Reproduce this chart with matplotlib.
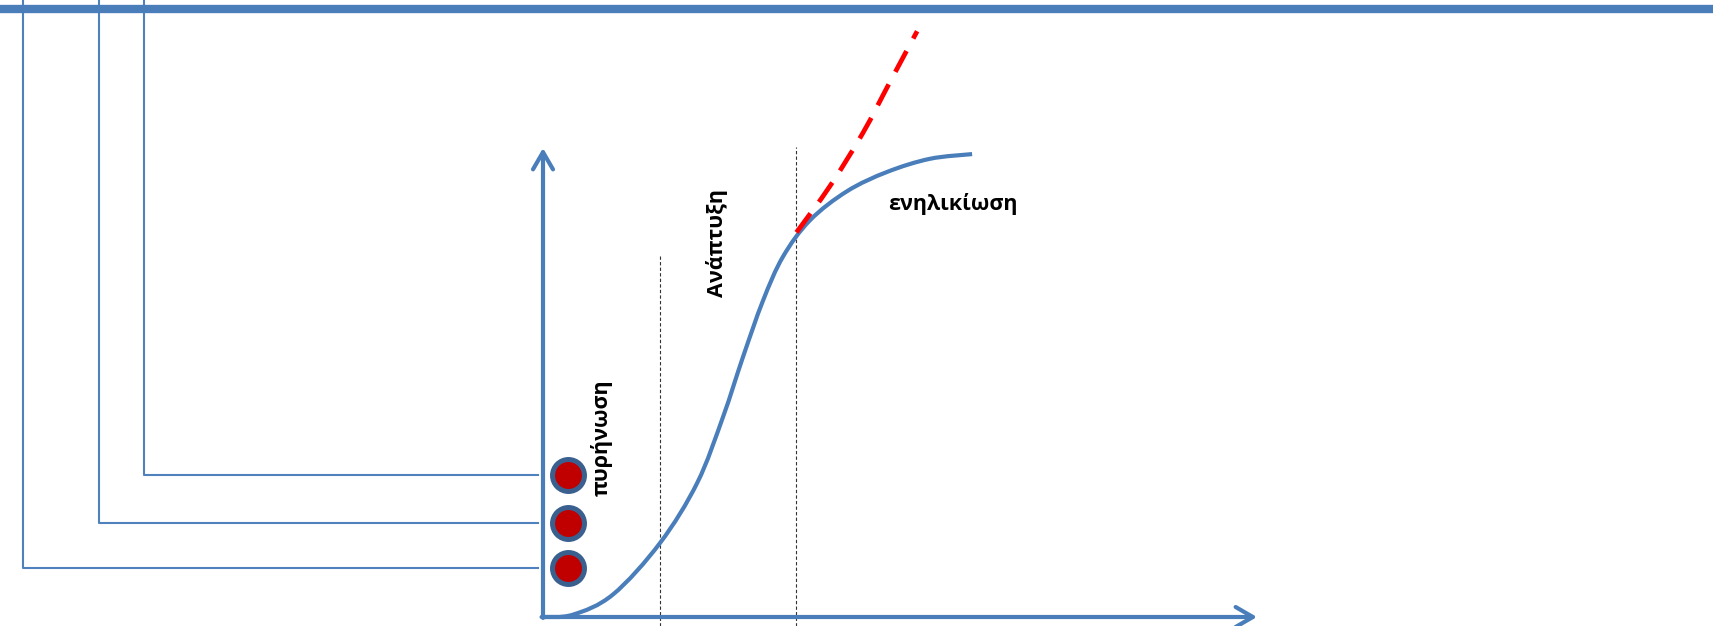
import numpy as np
import matplotlib
matplotlib.use("Agg")
import matplotlib.pyplot as plt
from matplotlib.lines import Line2D
from matplotlib.path import Path
from matplotlib.patches import PathPatch

plt.rcParams['font.family'] = ['Open Sans', 'DejaVu Sans']

# life cycle curve (time, level) in chart units 0..100
time = [0, 4.2, 9.8, 16.4, 21.6, 25.2, 28.0, 30.8, 33.6, 37.4, 42.6, 48.2, 54.2, 60.1]
level = [0, 0.5, 4.8, 15.8, 28.6, 42.6, 55.4, 67.4, 76.8, 84.6, 90.8, 94.9, 97.7, 98.7]

# renewed growth (red dashed)
renew_time = [35.5, 40.2, 44.8, 48.6, 52.4]
renew_level = [82.0, 91.9, 103.2, 114.1, 124.9]

# phase borders
phase_x = [16.4, 35.4]
phase_top = [77.2, 100.3]

phase_labels = ['πυρήνωση', 'Ανάπτυξη', 'ενηλικίωση']
label_pos = [(8.2, 38.2), (24.4, 79.7), (57.4, 88.1)]
label_rot = [90, 90, 0]

# three firms and their connector lines
firm_level = [30.3, 20.0, 10.4]
firm_line_x = [-55.9, -62.2, -72.8]

blue = '#4A7EBB'


def smooth_path(xs, ys):
    # catmull-rom through the points, as cubic bezier segments
    p = np.column_stack([xs, ys]).astype(float)
    p = np.vstack([p[0], p, p[-1]])
    verts = [p[1]]
    codes = [Path.MOVETO]
    for i in range(1, len(p) - 2):
        c1 = p[i] + (p[i + 1] - p[i - 1]) / 6
        c2 = p[i + 1] - (p[i + 2] - p[i]) / 6
        verts += [c1, c2, p[i + 1]]
        codes += [Path.CURVE4] * 3
    return Path(verts, codes)


fig = plt.figure(figsize=(17.13, 6.26), dpi=100)
ax = fig.add_axes([543 / 1713, 9 / 626, 714 / 1713, 469 / 626])
ax.set_xlim(0, 100)
ax.set_ylim(0, 100)
ax.axis('off')

# top bar
fig.add_artist(Line2D([0, 1], [1 - 9 / 626, 1 - 9 / 626], color=blue, lw=6,
                      transform=fig.transFigure))

# axes arrows
arrow = dict(arrowstyle='->,head_length=0.62,head_width=0.36', lw=3, color=blue,
             mutation_scale=20, shrinkA=0, shrinkB=0)
ax.annotate('', xy=(100, 0), xytext=(-0.2, 0), arrowprops=arrow, annotation_clip=False)
ax.annotate('', xy=(0, 100), xytext=(0, -0.2), arrowprops=arrow, annotation_clip=False)

# phase borders
for x, top in zip(phase_x, phase_top):
    ax.plot([x, x], [-2, top], color='#333333', lw=0.8, ls=(0, (3, 2)), clip_on=False)

# curves
ax.add_patch(PathPatch(smooth_path(time, level), fill=False, edgecolor=blue, lw=3,
                       capstyle='butt', clip_on=False, zorder=3))
ax.add_patch(PathPatch(smooth_path(renew_time, renew_level), fill=False,
                       edgecolor='#FF0000', lw=3.4, ls=(0, (5, 3)),
                       capstyle='butt', clip_on=False, zorder=3))

# connector lines
for lv, lx in zip(firm_level, firm_line_x):
    ax.plot([lx, lx, -0.7], [140, lv, lv], color='#4F81BD', lw=1.5, clip_on=False)

# firms
ax.plot([3.46] * len(firm_level), firm_level, 'o', ms=23, mfc='#C00000',
        mec='#3A6090', mew=3.6, clip_on=False, zorder=5)

for txt, (x, y), r in zip(phase_labels, label_pos, label_rot):
    ax.text(x, y, txt, rotation=r, ha='center', va='center', fontsize=15.5,
            fontweight='bold', color='black')

fig.savefig('out.png', dpi=100)
